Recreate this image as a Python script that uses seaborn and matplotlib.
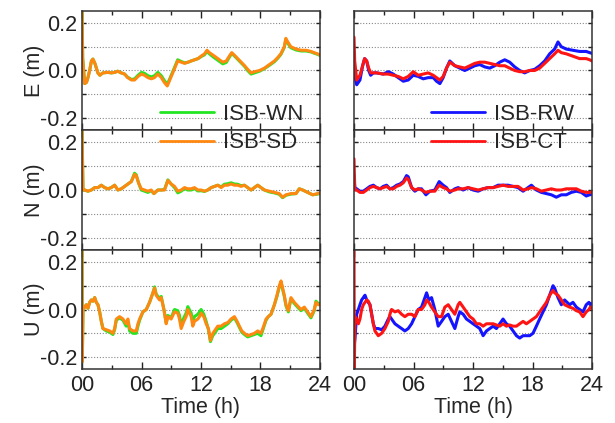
import matplotlib
matplotlib.use("Agg")
import matplotlib.pyplot as plt
import seaborn as sns
from matplotlib.lines import Line2D

# ---------------- data ----------------
# Left column, E component
EL_t = [0, 0.07, 0.27, 0.45, 0.6, 0.77, 0.95, 1.1, 1.3, 1.45,
        1.6, 1.8, 2.1, 2.6, 2.95, 3.3, 3.6, 3.95, 4.3, 4.6,
        5.0, 5.3, 5.65, 6.0, 6.3, 6.65, 7.0, 7.3, 7.65, 8.0,
        8.3, 8.6, 8.85, 9.05, 9.35, 9.65, 10.0, 10.35, 10.7, 11.0,
        11.35, 11.7, 12.0, 12.35, 12.6, 12.85, 13.2, 13.7, 14.2, 14.55,
        14.85, 15.1, 15.35, 15.7, 16.05, 16.4, 16.7, 17.05, 17.4, 17.9,
        18.4, 18.9, 19.4, 19.75, 20.05, 20.4, 20.55, 20.75, 21.05, 21.6,
        22.1, 22.6, 23.1, 23.4, 23.75, 24.0]
E_sd = [0.27, 0.05, -0.055, -0.05, -0.03, 0.0, 0.04, 0.048, 0.03, 0.01,
        -0.01, -0.02, -0.01, -0.008, -0.01, -0.008, -0.003, -0.01, -0.015, -0.03,
        -0.04, -0.04, -0.025, -0.015, -0.02, -0.03, -0.035, -0.03, -0.015, -0.03,
        -0.05, -0.065, -0.04, -0.02, 0.01, 0.04, 0.035, 0.03, 0.035, 0.04,
        0.045, 0.05, 0.06, 0.07, 0.085, 0.075, 0.065, 0.05, 0.035, 0.04,
        0.06, 0.075, 0.065, 0.05, 0.035, 0.02, 0.005, -0.01, -0.005, 0.0,
        0.01, 0.025, 0.04, 0.055, 0.07, 0.1, 0.135, 0.12, 0.1, 0.09,
        0.085, 0.085, 0.08, 0.075, 0.07, 0.065]
E_wn = [0.27, 0.05, -0.055, -0.05, -0.03, 0.0, 0.04, 0.048, 0.03, 0.01,
        -0.01, -0.02, -0.01, -0.008, -0.01, -0.008, -0.003, -0.01, -0.015, -0.028,
        -0.038, -0.035, -0.02, -0.008, -0.012, -0.022, -0.027, -0.022, -0.008, -0.022,
        -0.042, -0.058, -0.035, -0.015, 0.015, 0.045, 0.038, 0.032, 0.035, 0.04,
        0.045, 0.05, 0.058, 0.066, 0.08, 0.07, 0.058, 0.043, 0.028, 0.034,
        0.055, 0.072, 0.062, 0.047, 0.032, 0.017, 0.0, -0.015, -0.01, -0.003,
        0.008, 0.022, 0.037, 0.052, 0.067, 0.097, 0.13, 0.115, 0.096, 0.086,
        0.082, 0.082, 0.078, 0.073, 0.068, 0.063]

# Right column, E component
ER_t = [0, 0.07, 0.27, 0.6, 0.87, 1.07, 1.28, 1.48, 1.68, 1.95,
        2.28, 2.95, 3.46, 3.96, 4.46, 4.97, 5.47, 5.97, 6.48, 6.98,
        7.48, 7.99, 8.32, 8.66, 8.99, 9.33, 9.66, 10.17, 10.67, 11.17,
        11.68, 12.18, 12.68, 13.19, 13.69, 14.19, 14.7, 15.2, 15.7, 16.21,
        16.71, 17.21, 17.72, 18.22, 18.72, 19.23, 19.73, 20.23, 20.57, 20.9,
        21.41, 22.08, 22.75, 23.42, 23.76, 24.0]
E_rw = [0.04, -0.02, -0.06, -0.04, 0.02, 0.05, 0.04, 0.0, -0.02, -0.01,
        -0.01, -0.015, -0.005, -0.015, -0.03, -0.045, -0.04, -0.02, -0.025, -0.035,
        -0.03, -0.03, -0.045, -0.055, -0.03, 0.01, 0.04, 0.02, 0.01, 0.0,
        0.01, 0.02, 0.025, 0.015, 0.01, 0.02, 0.035, 0.045, 0.035, 0.015,
        0.0, -0.01, 0.0, 0.005, 0.02, 0.04, 0.07, 0.09, 0.12, 0.1,
        0.09, 0.085, 0.08, 0.08, 0.075, 0.072]
E_ct = [0.14, 0.04, -0.04, -0.02, 0.02, 0.05, 0.04, 0.01, -0.01, -0.01,
        -0.01, -0.015, -0.015, -0.02, -0.025, -0.035, -0.025, -0.005, -0.02, -0.015,
        -0.01, -0.02, -0.03, -0.04, -0.025, 0.01, 0.035, 0.02, 0.015, 0.01,
        0.02, 0.03, 0.035, 0.035, 0.03, 0.025, 0.02, 0.02, 0.01, 0.0,
        -0.005, -0.005, 0.0, 0.0, 0.01, 0.03, 0.05, 0.07, 0.085, 0.075,
        0.07, 0.06, 0.05, 0.05, 0.045, 0.04]

# Left column, N component
NL_t = [0, 0.1, 0.27, 0.6, 0.94, 1.28, 1.61, 1.95, 2.28, 2.62,
        2.95, 3.29, 3.62, 3.96, 4.3, 4.63, 4.97, 5.3, 5.47, 5.7,
        5.97, 6.31, 6.64, 6.98, 7.25, 7.65, 7.99, 8.32, 8.66, 8.99,
        9.33, 9.66, 10.0, 10.34, 10.67, 11.01, 11.34, 11.68, 12.01, 12.35,
        12.68, 13.02, 13.36, 13.69, 14.03, 14.36, 14.7, 15.03, 15.37, 15.7,
        16.04, 16.38, 16.71, 17.05, 17.38, 17.72, 18.05, 18.39, 18.89, 19.4,
        19.9, 20.23, 20.57, 21.07, 21.58, 21.91, 22.25, 22.75, 23.26, 23.76,
        24.0]
N_sd = [0.26, 0.0, 0.0, -0.005, 0.0, 0.01, 0.01, 0.02, 0.01, 0.005,
        0.01, 0.02, 0.0, 0.005, 0.015, 0.025, 0.035, 0.065, 0.06, 0.03,
        0.005, 0.0, -0.005, 0.0, -0.015, 0.0, 0.0, 0.0, 0.04, 0.025,
        0.015, -0.005, 0.0, 0.01, 0.005, 0.005, 0.01, 0.0, 0.0, -0.005,
        0.0, 0.01, 0.015, 0.02, 0.01, 0.02, 0.02, 0.025, 0.02, 0.02,
        0.015, 0.02, 0.01, 0.0, 0.01, 0.02, 0.01, 0.0, -0.005, -0.01,
        -0.015, -0.03, -0.02, -0.015, -0.015, 0.005, 0.0, -0.01, -0.02, -0.015,
        -0.012]
N_wn = [0.26, 0.0, 0.0, -0.005, 0.0, 0.01, 0.01, 0.02, 0.01, 0.005,
        0.01, 0.02, 0.0, 0.005, 0.015, 0.025, 0.035, 0.07, 0.063, 0.03,
        0.0, -0.005, -0.01, -0.003, -0.015, 0.0, 0.0, 0.002, 0.042, 0.025,
        0.01, -0.012, -0.005, 0.006, 0.0, 0.0, 0.006, -0.004, -0.003, -0.006,
        0.0, 0.01, 0.015, 0.02, 0.013, 0.024, 0.026, 0.03, 0.025, 0.024,
        0.018, 0.02, 0.01, 0.0, 0.01, 0.02, 0.01, 0.0, -0.008, -0.012,
        -0.018, -0.032, -0.022, -0.017, -0.015, 0.005, 0.0, -0.01, -0.02, -0.017,
        -0.014]

# Right column, N component
NR_t = [0, 0.08, 0.27, 0.6, 0.94, 1.28, 1.61, 1.95, 2.28, 2.62,
        2.95, 3.29, 3.62, 3.96, 4.3, 4.63, 4.97, 5.3, 5.47, 5.81,
        6.14, 6.48, 6.81, 7.25, 7.65, 8.15, 8.59, 8.99, 9.33, 9.66,
        10.17, 10.5, 11.01, 11.51, 12.01, 12.52, 13.02, 13.52, 14.03, 14.53,
        15.03, 15.54, 16.04, 16.54, 17.05, 17.55, 17.89, 18.39, 18.89, 19.4,
        19.9, 20.4, 20.91, 21.41, 21.91, 22.42, 22.92, 23.42, 23.76, 24.0]
N_rw = [0.06, 0.01, 0.005, -0.005, -0.005, 0.005, 0.015, 0.02, 0.01, 0.005,
        0.015, 0.02, 0.005, 0.01, 0.02, 0.025, 0.035, 0.06, 0.055, 0.01,
        -0.005, 0.005, 0.005, -0.02, -0.005, 0.0, 0.035, 0.02, 0.01, -0.01,
        0.005, 0.01, 0.0, 0.01, 0.0, -0.005, 0.005, 0.01, 0.01, 0.02,
        0.02, 0.02, 0.015, 0.01, -0.005, 0.01, 0.02, 0.0, -0.01, -0.015,
        -0.02, -0.03, -0.02, -0.02, -0.01, -0.005, -0.01, -0.025, -0.02, -0.018]
N_ct = [0.13, 0.0, 0.0, -0.01, -0.01, 0.0, 0.01, 0.015, 0.01, 0.005,
        0.01, 0.015, 0.005, 0.005, 0.015, 0.02, 0.03, 0.05, 0.045, 0.01,
        0.0, 0.005, 0.0, -0.01, -0.005, -0.005, 0.02, 0.01, 0.005, -0.005,
        0.0, 0.005, 0.005, 0.01, 0.005, 0.0, 0.005, 0.01, 0.01, 0.015,
        0.02, 0.015, 0.015, 0.015, 0.0, 0.005, 0.01, 0.005, -0.005, 0.0,
        0.005, 0.0, 0.0, 0.005, 0.005, 0.005, -0.005, -0.01, -0.01, -0.008]

# Left column, U component
UL_t = [0, 0.03, 0.1, 0.27, 0.44, 0.6, 0.77, 0.94, 1.11, 1.28,
        1.44, 1.61, 1.78, 1.95, 2.11, 2.45, 2.79, 3.12, 3.29, 3.46,
        3.79, 4.13, 4.46, 4.63, 4.8, 5.13, 5.47, 5.64, 5.81, 6.14,
        6.48, 6.81, 7.15, 7.32, 7.48, 7.82, 7.99, 8.26, 8.49, 8.66,
        8.99, 9.33, 9.66, 9.83, 10.0, 10.27, 10.5, 10.67, 11.01, 11.17,
        11.34, 11.68, 11.85, 12.01, 12.28, 12.52, 12.75, 12.95, 13.19, 13.36,
        13.69, 14.03, 14.36, 14.7, 15.03, 15.37, 15.64, 15.87, 16.11, 16.38,
        16.71, 17.05, 17.38, 17.72, 18.05, 18.32, 18.56, 18.79, 19.06, 19.4,
        19.66, 19.9, 20.07, 20.23, 20.4, 20.57, 20.81, 21.07, 21.41, 21.74,
        22.08, 22.42, 22.75, 23.09, 23.42, 23.59, 23.83, 24.0]
U_sd = [0.26, -0.22, 0.0, 0.01, 0.02, 0.005, 0.03, 0.04, 0.035, 0.05,
        0.03, 0.02, -0.01, -0.05, -0.08, -0.085, -0.09, -0.1, -0.08, -0.04,
        -0.03, -0.04, -0.06, -0.04, -0.08, -0.09, -0.09, -0.06, -0.04, -0.01,
        0.0, 0.03, 0.07, 0.09, 0.06, 0.04, 0.05, 0.0, -0.06, -0.03,
        -0.04, -0.01, -0.015, -0.04, -0.08, -0.05, -0.03, 0.0, -0.03, -0.07,
        -0.05, -0.04, -0.03, -0.015, -0.03, -0.06, -0.08, -0.13, -0.1, -0.09,
        -0.07, -0.07, -0.06, -0.055, -0.04, -0.03, -0.05, -0.07, -0.09, -0.1,
        -0.11, -0.105, -0.1, -0.09, -0.1, -0.07, -0.04, -0.03, -0.02, 0.02,
        0.06, 0.1, 0.12, 0.09, 0.06, 0.02, -0.005, 0.05, 0.03, 0.015,
        0.0, 0.01, -0.01, -0.03, 0.0, 0.03, 0.02, 0.02]
U_wn = [0.26, -0.22, 0.0, 0.01, 0.02, 0.005, 0.03, 0.04, 0.035, 0.05,
        0.03, 0.02, -0.01, -0.05, -0.08, -0.09, -0.095, -0.105, -0.085, -0.045,
        -0.035, -0.045, -0.07, -0.05, -0.09, -0.1, -0.1, -0.07, -0.045, -0.01,
        0.0, 0.03, 0.07, 0.095, 0.065, 0.045, 0.055, 0.0, -0.055, -0.025,
        -0.035, 0.0, -0.005, -0.025, -0.065, -0.035, -0.015, 0.012, -0.015, -0.05,
        -0.03, -0.02, -0.01, 0.0, -0.02, -0.05, -0.085, -0.135, -0.11, -0.1,
        -0.08, -0.08, -0.07, -0.06, -0.045, -0.035, -0.055, -0.075, -0.095, -0.105,
        -0.115, -0.11, -0.105, -0.1, -0.11, -0.075, -0.045, -0.03, -0.02, 0.02,
        0.055, 0.095, 0.115, 0.085, 0.055, 0.015, -0.01, 0.045, 0.025, 0.01,
        -0.005, 0.005, -0.015, -0.035, -0.005, 0.035, 0.025, 0.025]

# Right column, U component
UR_t = [0, 0.03, 0.1, 0.27, 0.44, 0.6, 0.77, 0.94, 1.11, 1.28,
        1.44, 1.61, 1.78, 1.95, 2.11, 2.45, 2.79, 3.12, 3.46, 3.62,
        3.79, 4.13, 4.46, 4.8, 5.13, 5.47, 5.81, 6.14, 6.48, 6.81,
        7.15, 7.32, 7.55, 7.82, 8.15, 8.49, 8.83, 9.16, 9.5, 9.83,
        10.17, 10.5, 10.67, 11.01, 11.34, 11.68, 12.01, 12.35, 12.68, 13.02,
        13.36, 13.69, 14.03, 14.36, 14.7, 15.03, 15.37, 15.7, 16.04, 16.38,
        16.71, 17.05, 17.38, 17.72, 18.05, 18.39, 18.72, 19.06, 19.4, 19.73,
        20.07, 20.23, 20.57, 20.91, 21.24, 21.74, 22.08, 22.42, 22.75, 23.09,
        23.42, 23.69, 23.83, 24.0]
U_rw = [-0.17, -0.15, -0.12, -0.02, 0.0, 0.02, 0.04, 0.05, 0.06, 0.04,
        0.03, 0.02, -0.02, -0.06, -0.08, -0.08, -0.085, -0.07, -0.04, -0.03,
        -0.04, -0.06, -0.07, -0.08, -0.09, -0.08, -0.06, -0.03, 0.0, 0.01,
        0.05, 0.07, 0.04, 0.05, 0.0, -0.07, -0.05, -0.03, -0.02, -0.05,
        -0.08, -0.03, -0.01, -0.02, -0.04, -0.05, -0.06, -0.07, -0.08, -0.11,
        -0.09, -0.08, -0.07, -0.08, -0.06, -0.04, -0.06, -0.07, -0.09, -0.11,
        -0.12, -0.11, -0.11, -0.11, -0.1, -0.07, -0.04, -0.01, 0.02, 0.06,
        0.1, 0.09, 0.05, 0.02, 0.04, 0.02, 0.03, 0.01, 0.0, -0.01,
        0.02, 0.03, 0.02, 0.025]
U_ct = [0.26, -0.25, -0.03, -0.04, -0.06, -0.04, 0.0, 0.02, 0.03, 0.04,
        0.035, 0.02, -0.02, -0.06, -0.09, -0.11, -0.1, -0.08, -0.05, -0.02,
        0.0, -0.01, -0.005, -0.02, -0.03, -0.02, -0.02, -0.03, 0.0, 0.0,
        0.02, 0.04, 0.03, 0.01, -0.01, -0.03, -0.03, 0.01, 0.02, 0.0,
        -0.02, 0.02, 0.03, 0.01, -0.01, -0.03, -0.04, -0.06, -0.06, -0.07,
        -0.06, -0.06, -0.06, -0.065, -0.07, -0.06, -0.07, -0.065, -0.07, -0.07,
        -0.06, -0.05, -0.06, -0.05, -0.04, -0.03, -0.01, 0.01, 0.03, 0.06,
        0.08, 0.07, 0.06, 0.04, 0.02, 0.01, 0.005, -0.005, -0.01, -0.03,
        -0.01, 0.0, 0.01, 0.005]

components = ["E (m)", "N (m)", "U (m)"]
x_ticks = [0, 6, 12, 18, 24]
x_ticklabels = ["00", "06", "12", "18", "24"]
y_ticks = [-0.2, -0.1, 0.0, 0.1, 0.2]
y_ticklabels = ["-0.2", "", "0.0", "", "0.2"]
labels_left = ["ISB-WN", "ISB-SD"]
labels_right = ["ISB-RW", "ISB-CT"]

C_WN, C_SD, C_RW, C_CT = "#22e622", "#ff8811", "#1414ff", "#ff1414"

# ---------------- figure ----------------
sns.set_style("ticks")
plt.rcParams["font.family"] = ["Liberation Sans", "DejaVu Sans"]
FS = 15.5

fig = plt.figure(figsize=(6.15, 4.23), dpi=100)
W, H = 615.0, 423.0
col_x = [82, 354]
col_w = 238
row_top = [11, 130, 250]
row_h = [119, 120, 119]

panels = {
    (0, 0): (EL_t, [(E_wn, C_WN), (E_sd, C_SD)]),
    (0, 1): (ER_t, [(E_rw, C_RW), (E_ct, C_CT)]),
    (1, 0): (NL_t, [(N_wn, C_WN), (N_sd, C_SD)]),
    (1, 1): (NR_t, [(N_rw, C_RW), (N_ct, C_CT)]),
    (2, 0): (UL_t, [(U_wn, C_WN), (U_sd, C_SD)]),
    (2, 1): (UR_t, [(U_rw, C_RW), (U_ct, C_CT)]),
}

for (r, c), (t, series) in panels.items():
    ax = fig.add_axes([col_x[c] / W, 1 - (row_top[r] + row_h[r]) / H,
                       col_w / W, row_h[r] / H])
    for vals, col in series:
        sns.lineplot(x=t, y=vals, ax=ax, color=col, lw=2.2,
                     estimator=None, sort=False)
    ax.set_xlim(0, 24)
    ax.set_ylim(-0.25, 0.25)
    ax.set_xticks(x_ticks)
    ax.set_xticks([3, 9, 15, 21], minor=True)
    ax.set_yticks(y_ticks)
    ax.grid(axis="y", which="major", color="#888888", lw=0.8,
            linestyle=(0, (1, 1.6)))
    ax.tick_params(axis="both", which="both", direction="in",
                   top=True, right=True, colors="#222222", labelsize=FS)
    ax.tick_params(axis="x", which="major", length=5, width=1)
    ax.tick_params(axis="x", which="minor", length=3, width=1)
    ax.tick_params(axis="y", which="major", length=3, width=1)
    for s in ax.spines.values():
        s.set_color("#333333")
        s.set_linewidth(1.1)
    if c == 0:
        ax.set_yticklabels(y_ticklabels)
        ax.set_ylabel(components[r], fontsize=FS)
        ax.yaxis.set_label_coords(-0.155, 0.5)
    else:
        ax.set_yticklabels([])
        ax.set_ylabel("")
    if r == 2:
        ax.set_xticklabels(x_ticklabels)
        ax.set_xlabel("Time (h)", fontsize=FS, labelpad=1)
    else:
        ax.set_xticklabels([])
        ax.set_xlabel("")
    ax.tick_params(axis="x", pad=4)

# legends spanning the first and second rows
for x0, labs, cols in [(160, labels_left, [C_WN, C_SD]),
                       (431, labels_right, [C_RW, C_CT])]:
    handles = [Line2D([], [], color=cc, lw=2.0) for cc in cols]
    fig.legend(handles, labs, loc="center left",
               bbox_to_anchor=(x0 / W, 1 - 128.5 / H), frameon=False,
               fontsize=FS + 0.5, handlelength=2.45, handletextpad=0.4,
               labelspacing=0.35, borderpad=0, borderaxespad=0)

fig.savefig("out.png", dpi=100)
